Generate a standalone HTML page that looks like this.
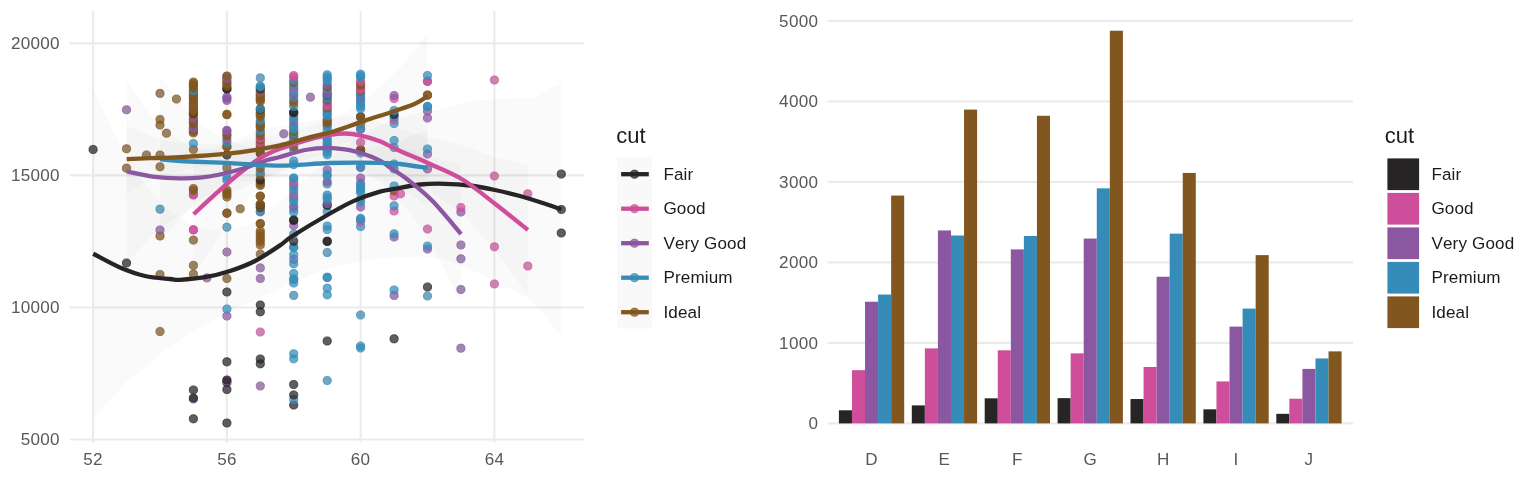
<!DOCTYPE html>
<html lang="en">
<head>
<meta charset="utf-8">
<title>cut</title>
<style>
html,body{margin:0;padding:0;background:#fff;}
body{width:1536px;height:480px;overflow:hidden;font-family:"Liberation Sans",sans-serif;}
svg{display:block;}
</style>
</head>
<body>
<svg width="1536" height="480" viewBox="0 0 1536 480">
<rect width="1536" height="480" fill="#ffffff"/>
<line x1="93.10" x2="93.10" y1="11" y2="442.75" stroke="#ebebeb" stroke-width="2.07"/>
<line x1="226.86" x2="226.86" y1="11" y2="442.75" stroke="#ebebeb" stroke-width="2.07"/>
<line x1="360.62" x2="360.62" y1="11" y2="442.75" stroke="#ebebeb" stroke-width="2.07"/>
<line x1="494.38" x2="494.38" y1="11" y2="442.75" stroke="#ebebeb" stroke-width="2.07"/>
<line x1="69.75" x2="584.5" y1="439.50" y2="439.50" stroke="#ebebeb" stroke-width="2.07"/>
<line x1="69.75" x2="584.5" y1="307.45" y2="307.45" stroke="#ebebeb" stroke-width="2.07"/>
<line x1="69.75" x2="584.5" y1="175.40" y2="175.40" stroke="#ebebeb" stroke-width="2.07"/>
<line x1="69.75" x2="584.5" y1="43.35" y2="43.35" stroke="#ebebeb" stroke-width="2.07"/>
<polygon points="93.1,88.8 101.5,106.2 109.8,123.8 118.2,141.3 126.5,157.7 134.9,169.5 143.3,181.4 151.6,191.7 160.0,201.7 168.3,209.6 176.7,215.8 185.1,221.0 193.4,225.6 201.8,228.2 210.1,229.3 218.5,230.0 226.9,230.7 235.2,229.0 243.6,225.8 251.9,222.6 260.3,218.2 268.7,211.2 277.0,204.1 285.4,196.4 293.7,188.5 302.1,181.7 310.5,174.9 318.8,168.1 327.2,161.0 335.5,154.3 343.9,147.9 352.3,141.4 360.6,136.1 369.0,131.2 377.3,126.3 385.7,122.9 394.1,120.2 402.4,117.6 410.8,115.1 419.1,112.6 427.5,111.2 435.9,109.9 444.2,108.0 452.6,105.8 460.9,103.6 469.3,101.5 477.7,100.5 486.0,99.8 494.4,99.0 502.7,98.6 511.1,98.4 519.5,98.1 527.8,98.3 536.2,95.8 544.5,91.3 552.9,87.1 561.3,83.0 561.3,336.0 552.9,325.9 544.5,315.9 536.2,306.3 527.8,298.5 519.5,293.7 511.1,289.4 502.7,285.1 494.4,280.8 486.0,277.0 477.7,273.2 469.3,269.4 460.9,266.1 452.6,262.8 444.2,259.6 435.9,258.1 427.5,257.3 419.1,256.7 410.8,257.1 402.4,257.4 394.1,257.7 385.7,258.2 377.3,258.8 369.0,259.8 360.6,260.8 352.3,262.2 343.9,264.5 335.5,266.8 327.2,269.4 318.8,272.3 310.5,275.6 302.1,278.8 293.7,282.0 285.4,286.3 277.0,290.4 268.7,293.8 260.3,297.2 251.9,301.9 243.6,305.3 235.2,308.8 226.9,312.9 218.5,317.7 210.1,322.6 201.8,327.0 193.4,331.2 185.1,337.5 176.7,343.3 168.3,348.0 160.0,353.9 151.6,361.9 143.3,369.5 134.9,375.6 126.5,381.7 118.2,391.8 109.8,400.8 101.5,409.7 93.1,418.8" fill="#000" fill-opacity="0.02"/>
<polygon points="193.4,152.2 201.8,150.2 210.1,148.0 218.5,145.9 226.9,144.1 235.2,140.1 243.6,136.8 251.9,133.6 260.3,131.3 268.7,128.3 277.0,126.5 285.4,125.3 293.7,124.3 302.1,122.3 310.5,120.9 318.8,119.8 327.2,118.6 335.5,117.2 343.9,116.1 352.3,116.7 360.6,117.6 369.0,119.2 377.3,121.0 385.7,123.8 394.1,127.1 402.4,129.8 410.8,132.2 419.1,134.5 427.5,136.9 435.9,138.8 444.2,140.8 452.6,142.8 460.9,144.8 469.3,147.6 477.7,150.8 486.0,154.0 494.4,157.3 502.7,159.2 511.1,161.1 519.5,163.0 527.8,164.9 527.8,294.9 519.5,283.5 511.1,272.1 502.7,260.7 494.4,249.3 486.0,240.0 477.7,230.8 469.3,221.6 460.9,212.8 452.6,206.8 444.2,200.8 435.9,194.8 427.5,188.9 419.1,184.0 410.8,179.2 402.4,174.3 394.1,169.1 385.7,164.3 377.3,160.0 369.0,156.7 360.6,153.6 352.3,152.2 343.9,151.1 335.5,151.7 327.2,152.6 318.8,155.3 310.5,157.9 302.1,160.8 293.7,164.3 285.4,168.8 277.0,173.5 268.7,178.8 260.3,185.3 251.9,194.1 243.6,203.8 235.2,213.6 226.9,224.1 218.5,236.9 210.1,250.0 201.8,263.2 193.4,276.2" fill="#000" fill-opacity="0.02"/>
<polygon points="126.5,80.0 134.9,91.9 143.3,103.9 151.6,115.9 160.0,127.2 168.3,132.6 176.7,138.1 185.1,143.1 193.4,147.8 201.8,149.3 210.1,150.1 218.5,150.8 226.9,150.7 235.2,149.8 243.6,148.9 251.9,147.2 260.3,145.5 268.7,143.2 277.0,141.7 285.4,140.0 293.7,138.2 302.1,135.8 310.5,134.5 318.8,133.6 327.2,132.8 335.5,133.0 343.9,133.3 352.3,134.5 360.6,135.9 369.0,137.4 377.3,139.0 385.7,142.3 394.1,146.3 402.4,148.0 410.8,150.3 419.1,153.5 427.5,156.7 435.9,157.4 444.2,159.5 452.6,161.7 460.9,163.8 460.9,303.8 452.6,286.7 444.2,269.5 435.9,252.4 427.5,236.7 419.1,225.5 410.8,214.3 402.4,204.0 394.1,194.3 385.7,186.8 377.3,180.0 369.0,174.9 360.6,169.9 352.3,167.5 343.9,165.3 335.5,164.0 327.2,162.8 318.8,163.6 310.5,164.5 302.1,165.8 293.7,168.2 285.4,171.0 277.0,173.7 268.7,176.2 260.3,179.5 251.9,183.7 243.6,187.9 235.2,191.3 226.9,194.7 218.5,198.8 210.1,202.1 201.8,205.3 193.4,207.8 185.1,213.1 176.7,218.1 168.3,222.6 160.0,227.2 151.6,236.6 143.3,245.4 134.9,254.2 126.5,263.0" fill="#000" fill-opacity="0.02"/>
<polygon points="160.0,76.2 168.3,87.2 176.7,98.2 185.1,109.0 193.4,119.6 201.8,124.9 210.1,130.3 218.5,135.6 226.9,141.0 235.2,143.1 243.6,145.3 251.9,147.4 260.3,149.6 268.7,151.0 277.0,152.5 285.4,153.3 293.7,153.9 302.1,153.7 310.5,153.5 318.8,153.3 327.2,153.1 335.5,152.5 343.9,152.0 352.3,151.5 360.6,150.9 369.0,148.9 377.3,146.9 385.7,145.2 394.1,143.7 402.4,139.9 410.8,136.6 419.1,133.3 427.5,130.0 427.5,206.0 419.1,200.3 410.8,194.6 402.4,188.9 394.1,183.7 385.7,181.2 377.3,178.9 369.0,176.9 360.6,174.9 352.3,174.5 343.9,174.0 335.5,173.5 327.2,173.1 318.8,173.8 310.5,174.5 302.1,175.2 293.7,175.9 285.4,177.3 277.0,178.5 268.7,179.0 260.3,179.6 251.9,180.9 243.6,182.3 235.2,183.6 226.9,185.0 218.5,189.6 210.1,194.3 201.8,198.9 193.4,203.6 185.1,213.5 176.7,223.2 168.3,232.7 160.0,242.2" fill="#000" fill-opacity="0.02"/>
<polygon points="126.5,125.2 134.9,128.8 143.3,132.5 151.6,136.1 160.0,139.9 168.3,141.1 176.7,142.3 185.1,143.3 193.4,144.2 201.8,144.0 210.1,143.9 218.5,143.8 226.9,143.6 235.2,142.4 243.6,141.0 251.9,139.6 260.3,138.1 268.7,136.5 277.0,135.0 285.4,132.9 293.7,130.6 302.1,127.8 310.5,125.1 318.8,122.6 327.2,120.0 335.5,116.4 343.9,112.5 352.3,108.3 360.6,104.1 369.0,96.6 377.3,89.2 385.7,81.5 394.1,73.3 402.4,64.9 410.8,55.3 419.1,44.0 427.5,31.8 427.5,160.8 419.1,158.5 410.8,155.2 402.4,151.5 394.1,149.0 385.7,146.3 377.3,144.0 369.0,142.0 360.6,140.1 352.3,141.8 343.9,143.5 335.5,144.9 327.2,146.0 318.8,147.6 310.5,149.1 302.1,150.8 293.7,152.6 285.4,154.9 277.0,157.0 268.7,158.5 260.3,160.1 251.9,161.1 243.6,162.0 235.2,162.9 226.9,163.6 218.5,164.8 210.1,165.9 201.8,167.0 193.4,168.2 185.1,170.3 176.7,172.3 168.3,174.1 160.0,175.9 151.6,180.1 143.3,184.5 134.9,188.8 126.5,193.2" fill="#000" fill-opacity="0.02"/>
<g stroke-width="0.95">
<circle cx="93.1" cy="149.5" r="4.1" fill="#272425" fill-opacity="0.74" stroke="#272425" stroke-opacity="0.74"/>
<circle cx="126.5" cy="263.0" r="4.1" fill="#272425" fill-opacity="0.74" stroke="#272425" stroke-opacity="0.74"/>
<circle cx="126.5" cy="168.2" r="4.1" fill="#78592f" fill-opacity="0.74" stroke="#81571F" stroke-opacity="0.74"/>
<circle cx="126.5" cy="148.8" r="4.1" fill="#78592f" fill-opacity="0.74" stroke="#81571F" stroke-opacity="0.74"/>
<circle cx="126.5" cy="109.8" r="4.1" fill="#845d94" fill-opacity="0.74" stroke="#8B57A1" stroke-opacity="0.74"/>
<circle cx="160.0" cy="331.5" r="4.1" fill="#78592f" fill-opacity="0.74" stroke="#81571F" stroke-opacity="0.74"/>
<circle cx="160.0" cy="274.5" r="4.1" fill="#78592f" fill-opacity="0.74" stroke="#81571F" stroke-opacity="0.74"/>
<circle cx="160.0" cy="236.0" r="4.1" fill="#81571F" fill-opacity="0.74" stroke="#81571F" stroke-opacity="0.74"/>
<circle cx="160.0" cy="230.0" r="4.1" fill="#8B57A1" fill-opacity="0.74" stroke="#8B57A1" stroke-opacity="0.74"/>
<circle cx="160.0" cy="209.2" r="4.1" fill="#4687a9" fill-opacity="0.74" stroke="#368CB9" stroke-opacity="0.74"/>
<circle cx="160.0" cy="166.8" r="4.1" fill="#78592f" fill-opacity="0.74" stroke="#81571F" stroke-opacity="0.74"/>
<circle cx="160.0" cy="155.0" r="4.1" fill="#78592f" fill-opacity="0.74" stroke="#81571F" stroke-opacity="0.74"/>
<circle cx="160.0" cy="125.0" r="4.1" fill="#81571F" fill-opacity="0.74" stroke="#81571F" stroke-opacity="0.74"/>
<circle cx="160.0" cy="119.5" r="4.1" fill="#81571F" fill-opacity="0.74" stroke="#81571F" stroke-opacity="0.74"/>
<circle cx="160.0" cy="93.4" r="4.1" fill="#78592f" fill-opacity="0.74" stroke="#81571F" stroke-opacity="0.74"/>
<circle cx="193.4" cy="418.8" r="4.1" fill="#272425" fill-opacity="0.74" stroke="#272425" stroke-opacity="0.74"/>
<circle cx="193.4" cy="399.0" r="4.1" fill="#8B57A1" fill-opacity="0.74" stroke="#8B57A1" stroke-opacity="0.74"/>
<circle cx="193.4" cy="398.0" r="4.1" fill="#272425" fill-opacity="0.74" stroke="#272425" stroke-opacity="0.74"/>
<circle cx="193.4" cy="390.0" r="4.1" fill="#272425" fill-opacity="0.74" stroke="#272425" stroke-opacity="0.74"/>
<circle cx="193.4" cy="274.1" r="4.1" fill="#78592f" fill-opacity="0.74" stroke="#81571F" stroke-opacity="0.74"/>
<circle cx="193.4" cy="265.4" r="4.1" fill="#78592f" fill-opacity="0.74" stroke="#81571F" stroke-opacity="0.74"/>
<circle cx="193.4" cy="240.1" r="4.1" fill="#78592f" fill-opacity="0.74" stroke="#81571F" stroke-opacity="0.74"/>
<circle cx="193.4" cy="229.9" r="4.1" fill="#CE4E9B" fill-opacity="0.74" stroke="#CE4E9B" stroke-opacity="0.74"/>
<circle cx="193.4" cy="229.8" r="4.1" fill="#CE4E9B" fill-opacity="0.74" stroke="#CE4E9B" stroke-opacity="0.74"/>
<circle cx="193.4" cy="195.0" r="4.1" fill="#8B57A1" fill-opacity="0.74" stroke="#8B57A1" stroke-opacity="0.74"/>
<circle cx="193.4" cy="194.6" r="4.1" fill="#CE4E9B" fill-opacity="0.74" stroke="#CE4E9B" stroke-opacity="0.74"/>
<circle cx="193.4" cy="190.5" r="4.1" fill="#81571F" fill-opacity="0.74" stroke="#81571F" stroke-opacity="0.74"/>
<circle cx="193.4" cy="188.5" r="4.1" fill="#81571F" fill-opacity="0.74" stroke="#81571F" stroke-opacity="0.74"/>
<circle cx="193.4" cy="149.4" r="4.1" fill="#81571F" fill-opacity="0.74" stroke="#81571F" stroke-opacity="0.74"/>
<circle cx="193.4" cy="143.5" r="4.1" fill="#368CB9" fill-opacity="0.74" stroke="#368CB9" stroke-opacity="0.74"/>
<circle cx="193.4" cy="133.0" r="4.1" fill="#81571F" fill-opacity="0.74" stroke="#81571F" stroke-opacity="0.74"/>
<circle cx="193.4" cy="131.5" r="4.1" fill="#81571F" fill-opacity="0.74" stroke="#81571F" stroke-opacity="0.74"/>
<circle cx="193.4" cy="130.0" r="4.1" fill="#81571F" fill-opacity="0.74" stroke="#81571F" stroke-opacity="0.74"/>
<circle cx="193.4" cy="128.5" r="4.1" fill="#81571F" fill-opacity="0.74" stroke="#81571F" stroke-opacity="0.74"/>
<circle cx="193.4" cy="128.0" r="4.1" fill="#8B57A1" fill-opacity="0.74" stroke="#8B57A1" stroke-opacity="0.74"/>
<circle cx="193.4" cy="127.6" r="4.1" fill="#8B57A1" fill-opacity="0.74" stroke="#8B57A1" stroke-opacity="0.74"/>
<circle cx="193.4" cy="124.0" r="4.1" fill="#81571F" fill-opacity="0.74" stroke="#81571F" stroke-opacity="0.74"/>
<circle cx="193.4" cy="122.5" r="4.1" fill="#81571F" fill-opacity="0.74" stroke="#81571F" stroke-opacity="0.74"/>
<circle cx="193.4" cy="121.0" r="4.1" fill="#81571F" fill-opacity="0.74" stroke="#81571F" stroke-opacity="0.74"/>
<circle cx="193.4" cy="119.5" r="4.1" fill="#81571F" fill-opacity="0.74" stroke="#81571F" stroke-opacity="0.74"/>
<circle cx="193.4" cy="118.6" r="4.1" fill="#8B57A1" fill-opacity="0.74" stroke="#8B57A1" stroke-opacity="0.74"/>
<circle cx="193.4" cy="115.0" r="4.1" fill="#81571F" fill-opacity="0.74" stroke="#81571F" stroke-opacity="0.74"/>
<circle cx="193.4" cy="113.5" r="4.1" fill="#81571F" fill-opacity="0.74" stroke="#81571F" stroke-opacity="0.74"/>
<circle cx="193.4" cy="113.0" r="4.1" fill="#272425" fill-opacity="0.74" stroke="#272425" stroke-opacity="0.74"/>
<circle cx="193.4" cy="112.0" r="4.1" fill="#81571F" fill-opacity="0.74" stroke="#81571F" stroke-opacity="0.74"/>
<circle cx="193.4" cy="110.5" r="4.1" fill="#81571F" fill-opacity="0.74" stroke="#81571F" stroke-opacity="0.74"/>
<circle cx="193.4" cy="109.0" r="4.1" fill="#81571F" fill-opacity="0.74" stroke="#81571F" stroke-opacity="0.74"/>
<circle cx="193.4" cy="107.5" r="4.1" fill="#81571F" fill-opacity="0.74" stroke="#81571F" stroke-opacity="0.74"/>
<circle cx="193.4" cy="106.0" r="4.1" fill="#81571F" fill-opacity="0.74" stroke="#81571F" stroke-opacity="0.74"/>
<circle cx="193.4" cy="104.5" r="4.1" fill="#81571F" fill-opacity="0.74" stroke="#81571F" stroke-opacity="0.74"/>
<circle cx="193.4" cy="103.2" r="4.1" fill="#8B57A1" fill-opacity="0.74" stroke="#8B57A1" stroke-opacity="0.74"/>
<circle cx="193.4" cy="103.0" r="4.1" fill="#81571F" fill-opacity="0.74" stroke="#81571F" stroke-opacity="0.74"/>
<circle cx="193.4" cy="100.0" r="4.1" fill="#81571F" fill-opacity="0.74" stroke="#81571F" stroke-opacity="0.74"/>
<circle cx="193.4" cy="98.5" r="4.1" fill="#81571F" fill-opacity="0.74" stroke="#81571F" stroke-opacity="0.74"/>
<circle cx="193.4" cy="97.0" r="4.1" fill="#81571F" fill-opacity="0.74" stroke="#81571F" stroke-opacity="0.74"/>
<circle cx="193.4" cy="95.5" r="4.1" fill="#81571F" fill-opacity="0.74" stroke="#81571F" stroke-opacity="0.74"/>
<circle cx="193.4" cy="94.0" r="4.1" fill="#81571F" fill-opacity="0.74" stroke="#81571F" stroke-opacity="0.74"/>
<circle cx="193.4" cy="92.5" r="4.1" fill="#81571F" fill-opacity="0.74" stroke="#81571F" stroke-opacity="0.74"/>
<circle cx="193.4" cy="91.0" r="4.1" fill="#81571F" fill-opacity="0.74" stroke="#81571F" stroke-opacity="0.74"/>
<circle cx="193.4" cy="90.7" r="4.1" fill="#368CB9" fill-opacity="0.74" stroke="#368CB9" stroke-opacity="0.74"/>
<circle cx="193.4" cy="88.0" r="4.1" fill="#81571F" fill-opacity="0.74" stroke="#81571F" stroke-opacity="0.74"/>
<circle cx="193.4" cy="86.5" r="4.1" fill="#81571F" fill-opacity="0.74" stroke="#81571F" stroke-opacity="0.74"/>
<circle cx="193.4" cy="85.0" r="4.1" fill="#81571F" fill-opacity="0.74" stroke="#81571F" stroke-opacity="0.74"/>
<circle cx="193.4" cy="83.5" r="4.1" fill="#81571F" fill-opacity="0.74" stroke="#81571F" stroke-opacity="0.74"/>
<circle cx="193.4" cy="82.0" r="4.1" fill="#81571F" fill-opacity="0.74" stroke="#81571F" stroke-opacity="0.74"/>
<circle cx="226.9" cy="423.0" r="4.1" fill="#272425" fill-opacity="0.74" stroke="#272425" stroke-opacity="0.74"/>
<circle cx="226.9" cy="389.5" r="4.1" fill="#272425" fill-opacity="0.74" stroke="#272425" stroke-opacity="0.74"/>
<circle cx="226.9" cy="382.5" r="4.1" fill="#272425" fill-opacity="0.74" stroke="#272425" stroke-opacity="0.74"/>
<circle cx="226.9" cy="381.0" r="4.1" fill="#8B57A1" fill-opacity="0.74" stroke="#8B57A1" stroke-opacity="0.74"/>
<circle cx="226.9" cy="380.0" r="4.1" fill="#272425" fill-opacity="0.74" stroke="#272425" stroke-opacity="0.74"/>
<circle cx="226.9" cy="361.8" r="4.1" fill="#272425" fill-opacity="0.74" stroke="#272425" stroke-opacity="0.74"/>
<circle cx="226.9" cy="316.0" r="4.1" fill="#8B57A1" fill-opacity="0.74" stroke="#8B57A1" stroke-opacity="0.74"/>
<circle cx="226.9" cy="309.0" r="4.1" fill="#368CB9" fill-opacity="0.74" stroke="#368CB9" stroke-opacity="0.74"/>
<circle cx="226.9" cy="292.0" r="4.1" fill="#272425" fill-opacity="0.74" stroke="#272425" stroke-opacity="0.74"/>
<circle cx="226.9" cy="278.5" r="4.1" fill="#78592f" fill-opacity="0.74" stroke="#81571F" stroke-opacity="0.74"/>
<circle cx="226.9" cy="252.0" r="4.1" fill="#845d94" fill-opacity="0.74" stroke="#8B57A1" stroke-opacity="0.74"/>
<circle cx="226.9" cy="227.2" r="4.1" fill="#4687a9" fill-opacity="0.74" stroke="#368CB9" stroke-opacity="0.74"/>
<circle cx="226.9" cy="213.3" r="4.1" fill="#81571F" fill-opacity="0.74" stroke="#81571F" stroke-opacity="0.74"/>
<circle cx="226.9" cy="213.0" r="4.1" fill="#81571F" fill-opacity="0.74" stroke="#81571F" stroke-opacity="0.74"/>
<circle cx="226.9" cy="197.0" r="4.1" fill="#81571F" fill-opacity="0.74" stroke="#81571F" stroke-opacity="0.74"/>
<circle cx="226.9" cy="194.5" r="4.1" fill="#81571F" fill-opacity="0.74" stroke="#81571F" stroke-opacity="0.74"/>
<circle cx="226.9" cy="192.5" r="4.1" fill="#81571F" fill-opacity="0.74" stroke="#81571F" stroke-opacity="0.74"/>
<circle cx="226.9" cy="190.0" r="4.1" fill="#81571F" fill-opacity="0.74" stroke="#81571F" stroke-opacity="0.74"/>
<circle cx="226.9" cy="180.0" r="4.1" fill="#368CB9" fill-opacity="0.74" stroke="#368CB9" stroke-opacity="0.74"/>
<circle cx="226.9" cy="177.0" r="4.1" fill="#368CB9" fill-opacity="0.74" stroke="#368CB9" stroke-opacity="0.74"/>
<circle cx="226.9" cy="167.9" r="4.1" fill="#78592f" fill-opacity="0.74" stroke="#81571F" stroke-opacity="0.74"/>
<circle cx="226.9" cy="155.0" r="4.1" fill="#272425" fill-opacity="0.74" stroke="#272425" stroke-opacity="0.74"/>
<circle cx="226.9" cy="146.8" r="4.1" fill="#81571F" fill-opacity="0.74" stroke="#81571F" stroke-opacity="0.74"/>
<circle cx="226.9" cy="146.6" r="4.1" fill="#81571F" fill-opacity="0.74" stroke="#81571F" stroke-opacity="0.74"/>
<circle cx="226.9" cy="142.6" r="4.1" fill="#368CB9" fill-opacity="0.74" stroke="#368CB9" stroke-opacity="0.74"/>
<circle cx="226.9" cy="139.4" r="4.1" fill="#8B57A1" fill-opacity="0.74" stroke="#8B57A1" stroke-opacity="0.74"/>
<circle cx="226.9" cy="136.0" r="4.1" fill="#81571F" fill-opacity="0.74" stroke="#81571F" stroke-opacity="0.74"/>
<circle cx="226.9" cy="134.0" r="4.1" fill="#81571F" fill-opacity="0.74" stroke="#81571F" stroke-opacity="0.74"/>
<circle cx="226.9" cy="130.8" r="4.1" fill="#8B57A1" fill-opacity="0.74" stroke="#8B57A1" stroke-opacity="0.74"/>
<circle cx="226.9" cy="130.4" r="4.1" fill="#8B57A1" fill-opacity="0.74" stroke="#8B57A1" stroke-opacity="0.74"/>
<circle cx="226.9" cy="114.7" r="4.1" fill="#81571F" fill-opacity="0.74" stroke="#81571F" stroke-opacity="0.74"/>
<circle cx="226.9" cy="114.3" r="4.1" fill="#81571F" fill-opacity="0.74" stroke="#81571F" stroke-opacity="0.74"/>
<circle cx="226.9" cy="100.4" r="4.1" fill="#8B57A1" fill-opacity="0.74" stroke="#8B57A1" stroke-opacity="0.74"/>
<circle cx="226.9" cy="98.5" r="4.1" fill="#8B57A1" fill-opacity="0.74" stroke="#8B57A1" stroke-opacity="0.74"/>
<circle cx="226.9" cy="97.0" r="4.1" fill="#8B57A1" fill-opacity="0.74" stroke="#8B57A1" stroke-opacity="0.74"/>
<circle cx="226.9" cy="89.0" r="4.1" fill="#272425" fill-opacity="0.74" stroke="#272425" stroke-opacity="0.74"/>
<circle cx="226.9" cy="88.6" r="4.1" fill="#272425" fill-opacity="0.74" stroke="#272425" stroke-opacity="0.74"/>
<circle cx="226.9" cy="86.0" r="4.1" fill="#81571F" fill-opacity="0.74" stroke="#81571F" stroke-opacity="0.74"/>
<circle cx="226.9" cy="84.0" r="4.1" fill="#81571F" fill-opacity="0.74" stroke="#81571F" stroke-opacity="0.74"/>
<circle cx="226.9" cy="82.0" r="4.1" fill="#81571F" fill-opacity="0.74" stroke="#81571F" stroke-opacity="0.74"/>
<circle cx="226.9" cy="80.0" r="4.1" fill="#81571F" fill-opacity="0.74" stroke="#81571F" stroke-opacity="0.74"/>
<circle cx="226.9" cy="78.2" r="4.1" fill="#8B57A1" fill-opacity="0.74" stroke="#8B57A1" stroke-opacity="0.74"/>
<circle cx="226.9" cy="76.5" r="4.1" fill="#8B57A1" fill-opacity="0.74" stroke="#8B57A1" stroke-opacity="0.74"/>
<circle cx="226.9" cy="76.0" r="4.1" fill="#81571F" fill-opacity="0.74" stroke="#81571F" stroke-opacity="0.74"/>
<circle cx="260.3" cy="386.0" r="4.1" fill="#845d94" fill-opacity="0.74" stroke="#8B57A1" stroke-opacity="0.74"/>
<circle cx="260.3" cy="363.8" r="4.1" fill="#272425" fill-opacity="0.74" stroke="#272425" stroke-opacity="0.74"/>
<circle cx="260.3" cy="359.0" r="4.1" fill="#272425" fill-opacity="0.74" stroke="#272425" stroke-opacity="0.74"/>
<circle cx="260.3" cy="332.0" r="4.1" fill="#ba5a94" fill-opacity="0.74" stroke="#CE4E9B" stroke-opacity="0.74"/>
<circle cx="260.3" cy="311.8" r="4.1" fill="#272425" fill-opacity="0.74" stroke="#272425" stroke-opacity="0.74"/>
<circle cx="260.3" cy="305.0" r="4.1" fill="#272425" fill-opacity="0.74" stroke="#272425" stroke-opacity="0.74"/>
<circle cx="260.3" cy="278.5" r="4.1" fill="#845d94" fill-opacity="0.74" stroke="#8B57A1" stroke-opacity="0.74"/>
<circle cx="260.3" cy="267.9" r="4.1" fill="#845d94" fill-opacity="0.74" stroke="#8B57A1" stroke-opacity="0.74"/>
<circle cx="260.3" cy="254.1" r="4.1" fill="#78592f" fill-opacity="0.74" stroke="#81571F" stroke-opacity="0.74"/>
<circle cx="260.3" cy="245.0" r="4.1" fill="#81571F" fill-opacity="0.74" stroke="#81571F" stroke-opacity="0.74"/>
<circle cx="260.3" cy="241.8" r="4.1" fill="#81571F" fill-opacity="0.74" stroke="#81571F" stroke-opacity="0.74"/>
<circle cx="260.3" cy="239.1" r="4.1" fill="#81571F" fill-opacity="0.74" stroke="#81571F" stroke-opacity="0.74"/>
<circle cx="260.3" cy="236.4" r="4.1" fill="#81571F" fill-opacity="0.74" stroke="#81571F" stroke-opacity="0.74"/>
<circle cx="260.3" cy="233.7" r="4.1" fill="#81571F" fill-opacity="0.74" stroke="#81571F" stroke-opacity="0.74"/>
<circle cx="260.3" cy="231.0" r="4.1" fill="#81571F" fill-opacity="0.74" stroke="#81571F" stroke-opacity="0.74"/>
<circle cx="260.3" cy="223.8" r="4.1" fill="#81571F" fill-opacity="0.74" stroke="#81571F" stroke-opacity="0.74"/>
<circle cx="260.3" cy="223.5" r="4.1" fill="#81571F" fill-opacity="0.74" stroke="#81571F" stroke-opacity="0.74"/>
<circle cx="260.3" cy="211.9" r="4.1" fill="#8B57A1" fill-opacity="0.74" stroke="#8B57A1" stroke-opacity="0.74"/>
<circle cx="260.3" cy="211.3" r="4.1" fill="#368CB9" fill-opacity="0.74" stroke="#368CB9" stroke-opacity="0.74"/>
<circle cx="260.3" cy="207.4" r="4.1" fill="#272425" fill-opacity="0.74" stroke="#272425" stroke-opacity="0.74"/>
<circle cx="260.3" cy="207.0" r="4.1" fill="#81571F" fill-opacity="0.74" stroke="#81571F" stroke-opacity="0.74"/>
<circle cx="260.3" cy="204.5" r="4.1" fill="#272425" fill-opacity="0.74" stroke="#272425" stroke-opacity="0.74"/>
<circle cx="260.3" cy="204.2" r="4.1" fill="#81571F" fill-opacity="0.74" stroke="#81571F" stroke-opacity="0.74"/>
<circle cx="260.3" cy="196.3" r="4.1" fill="#81571F" fill-opacity="0.74" stroke="#81571F" stroke-opacity="0.74"/>
<circle cx="260.3" cy="196.0" r="4.1" fill="#81571F" fill-opacity="0.74" stroke="#81571F" stroke-opacity="0.74"/>
<circle cx="260.3" cy="185.5" r="4.1" fill="#81571F" fill-opacity="0.74" stroke="#81571F" stroke-opacity="0.74"/>
<circle cx="260.3" cy="184.0" r="4.1" fill="#81571F" fill-opacity="0.74" stroke="#81571F" stroke-opacity="0.74"/>
<circle cx="260.3" cy="182.0" r="4.1" fill="#81571F" fill-opacity="0.74" stroke="#81571F" stroke-opacity="0.74"/>
<circle cx="260.3" cy="180.0" r="4.1" fill="#272425" fill-opacity="0.74" stroke="#272425" stroke-opacity="0.74"/>
<circle cx="260.3" cy="175.0" r="4.1" fill="#81571F" fill-opacity="0.74" stroke="#81571F" stroke-opacity="0.74"/>
<circle cx="260.3" cy="172.0" r="4.1" fill="#368CB9" fill-opacity="0.74" stroke="#368CB9" stroke-opacity="0.74"/>
<circle cx="260.3" cy="168.0" r="4.1" fill="#81571F" fill-opacity="0.74" stroke="#81571F" stroke-opacity="0.74"/>
<circle cx="260.3" cy="153.3" r="4.1" fill="#272425" fill-opacity="0.74" stroke="#272425" stroke-opacity="0.74"/>
<circle cx="260.3" cy="153.0" r="4.1" fill="#81571F" fill-opacity="0.74" stroke="#81571F" stroke-opacity="0.74"/>
<circle cx="260.3" cy="147.0" r="4.1" fill="#81571F" fill-opacity="0.74" stroke="#81571F" stroke-opacity="0.74"/>
<circle cx="260.3" cy="144.5" r="4.1" fill="#81571F" fill-opacity="0.74" stroke="#81571F" stroke-opacity="0.74"/>
<circle cx="260.3" cy="142.5" r="4.1" fill="#CE4E9B" fill-opacity="0.74" stroke="#CE4E9B" stroke-opacity="0.74"/>
<circle cx="260.3" cy="140.0" r="4.1" fill="#81571F" fill-opacity="0.74" stroke="#81571F" stroke-opacity="0.74"/>
<circle cx="260.3" cy="138.0" r="4.1" fill="#CE4E9B" fill-opacity="0.74" stroke="#CE4E9B" stroke-opacity="0.74"/>
<circle cx="260.3" cy="135.5" r="4.1" fill="#81571F" fill-opacity="0.74" stroke="#81571F" stroke-opacity="0.74"/>
<circle cx="260.3" cy="133.0" r="4.1" fill="#81571F" fill-opacity="0.74" stroke="#81571F" stroke-opacity="0.74"/>
<circle cx="260.3" cy="131.0" r="4.1" fill="#368CB9" fill-opacity="0.74" stroke="#368CB9" stroke-opacity="0.74"/>
<circle cx="260.3" cy="127.5" r="4.1" fill="#81571F" fill-opacity="0.74" stroke="#81571F" stroke-opacity="0.74"/>
<circle cx="260.3" cy="126.0" r="4.1" fill="#81571F" fill-opacity="0.74" stroke="#81571F" stroke-opacity="0.74"/>
<circle cx="260.3" cy="124.5" r="4.1" fill="#81571F" fill-opacity="0.74" stroke="#81571F" stroke-opacity="0.74"/>
<circle cx="260.3" cy="123.0" r="4.1" fill="#81571F" fill-opacity="0.74" stroke="#81571F" stroke-opacity="0.74"/>
<circle cx="260.3" cy="120.6" r="4.1" fill="#368CB9" fill-opacity="0.74" stroke="#368CB9" stroke-opacity="0.74"/>
<circle cx="260.3" cy="116.5" r="4.1" fill="#81571F" fill-opacity="0.74" stroke="#81571F" stroke-opacity="0.74"/>
<circle cx="260.3" cy="115.0" r="4.1" fill="#81571F" fill-opacity="0.74" stroke="#81571F" stroke-opacity="0.74"/>
<circle cx="260.3" cy="113.5" r="4.1" fill="#81571F" fill-opacity="0.74" stroke="#81571F" stroke-opacity="0.74"/>
<circle cx="260.3" cy="112.0" r="4.1" fill="#81571F" fill-opacity="0.74" stroke="#81571F" stroke-opacity="0.74"/>
<circle cx="260.3" cy="109.2" r="4.1" fill="#272425" fill-opacity="0.74" stroke="#272425" stroke-opacity="0.74"/>
<circle cx="260.3" cy="108.6" r="4.1" fill="#368CB9" fill-opacity="0.74" stroke="#368CB9" stroke-opacity="0.74"/>
<circle cx="260.3" cy="101.5" r="4.1" fill="#81571F" fill-opacity="0.74" stroke="#81571F" stroke-opacity="0.74"/>
<circle cx="260.3" cy="100.0" r="4.1" fill="#81571F" fill-opacity="0.74" stroke="#81571F" stroke-opacity="0.74"/>
<circle cx="260.3" cy="98.5" r="4.1" fill="#81571F" fill-opacity="0.74" stroke="#81571F" stroke-opacity="0.74"/>
<circle cx="260.3" cy="97.0" r="4.1" fill="#81571F" fill-opacity="0.74" stroke="#81571F" stroke-opacity="0.74"/>
<circle cx="260.3" cy="95.5" r="4.1" fill="#81571F" fill-opacity="0.74" stroke="#81571F" stroke-opacity="0.74"/>
<circle cx="260.3" cy="94.0" r="4.1" fill="#81571F" fill-opacity="0.74" stroke="#81571F" stroke-opacity="0.74"/>
<circle cx="260.3" cy="92.0" r="4.1" fill="#8B57A1" fill-opacity="0.74" stroke="#8B57A1" stroke-opacity="0.74"/>
<circle cx="260.3" cy="90.4" r="4.1" fill="#81571F" fill-opacity="0.74" stroke="#81571F" stroke-opacity="0.74"/>
<circle cx="260.3" cy="88.6" r="4.1" fill="#272425" fill-opacity="0.74" stroke="#272425" stroke-opacity="0.74"/>
<circle cx="260.3" cy="87.0" r="4.1" fill="#368CB9" fill-opacity="0.74" stroke="#368CB9" stroke-opacity="0.74"/>
<circle cx="260.3" cy="86.0" r="4.1" fill="#368CB9" fill-opacity="0.74" stroke="#368CB9" stroke-opacity="0.74"/>
<circle cx="260.3" cy="77.9" r="4.1" fill="#4687a9" fill-opacity="0.74" stroke="#368CB9" stroke-opacity="0.74"/>
<circle cx="293.7" cy="405.0" r="4.1" fill="#272425" fill-opacity="0.74" stroke="#272425" stroke-opacity="0.74"/>
<circle cx="293.7" cy="399.5" r="4.1" fill="#368CB9" fill-opacity="0.74" stroke="#368CB9" stroke-opacity="0.74"/>
<circle cx="293.7" cy="395.0" r="4.1" fill="#272425" fill-opacity="0.74" stroke="#272425" stroke-opacity="0.74"/>
<circle cx="293.7" cy="384.5" r="4.1" fill="#272425" fill-opacity="0.74" stroke="#272425" stroke-opacity="0.74"/>
<circle cx="293.7" cy="358.8" r="4.1" fill="#368CB9" fill-opacity="0.74" stroke="#368CB9" stroke-opacity="0.74"/>
<circle cx="293.7" cy="353.8" r="4.1" fill="#368CB9" fill-opacity="0.74" stroke="#368CB9" stroke-opacity="0.74"/>
<circle cx="293.7" cy="295.4" r="4.1" fill="#4687a9" fill-opacity="0.74" stroke="#368CB9" stroke-opacity="0.74"/>
<circle cx="293.7" cy="283.0" r="4.1" fill="#368CB9" fill-opacity="0.74" stroke="#368CB9" stroke-opacity="0.74"/>
<circle cx="293.7" cy="279.4" r="4.1" fill="#368CB9" fill-opacity="0.74" stroke="#368CB9" stroke-opacity="0.74"/>
<circle cx="293.7" cy="279.0" r="4.1" fill="#368CB9" fill-opacity="0.74" stroke="#368CB9" stroke-opacity="0.74"/>
<circle cx="293.7" cy="273.5" r="4.1" fill="#368CB9" fill-opacity="0.74" stroke="#368CB9" stroke-opacity="0.74"/>
<circle cx="293.7" cy="259.4" r="4.1" fill="#8B57A1" fill-opacity="0.74" stroke="#8B57A1" stroke-opacity="0.74"/>
<circle cx="293.7" cy="263.8" r="4.1" fill="#368CB9" fill-opacity="0.74" stroke="#368CB9" stroke-opacity="0.74"/>
<circle cx="293.7" cy="254.8" r="4.1" fill="#368CB9" fill-opacity="0.74" stroke="#368CB9" stroke-opacity="0.74"/>
<circle cx="293.7" cy="247.5" r="4.1" fill="#368CB9" fill-opacity="0.74" stroke="#368CB9" stroke-opacity="0.74"/>
<circle cx="293.7" cy="247.0" r="4.1" fill="#368CB9" fill-opacity="0.74" stroke="#368CB9" stroke-opacity="0.74"/>
<circle cx="293.7" cy="241.2" r="4.1" fill="#272425" fill-opacity="0.74" stroke="#272425" stroke-opacity="0.74"/>
<circle cx="293.7" cy="234.0" r="4.1" fill="#4687a9" fill-opacity="0.74" stroke="#368CB9" stroke-opacity="0.74"/>
<circle cx="293.7" cy="225.4" r="4.1" fill="#8B57A1" fill-opacity="0.74" stroke="#8B57A1" stroke-opacity="0.74"/>
<circle cx="293.7" cy="220.3" r="4.1" fill="#272425" fill-opacity="0.74" stroke="#272425" stroke-opacity="0.74"/>
<circle cx="293.7" cy="212.2" r="4.1" fill="#368CB9" fill-opacity="0.74" stroke="#368CB9" stroke-opacity="0.74"/>
<circle cx="293.7" cy="220.0" r="4.1" fill="#272425" fill-opacity="0.74" stroke="#272425" stroke-opacity="0.74"/>
<circle cx="293.7" cy="208.5" r="4.1" fill="#368CB9" fill-opacity="0.74" stroke="#368CB9" stroke-opacity="0.74"/>
<circle cx="293.7" cy="206.0" r="4.1" fill="#8B57A1" fill-opacity="0.74" stroke="#8B57A1" stroke-opacity="0.74"/>
<circle cx="293.7" cy="201.6" r="4.1" fill="#368CB9" fill-opacity="0.74" stroke="#368CB9" stroke-opacity="0.74"/>
<circle cx="293.7" cy="199.0" r="4.1" fill="#368CB9" fill-opacity="0.74" stroke="#368CB9" stroke-opacity="0.74"/>
<circle cx="293.7" cy="196.5" r="4.1" fill="#368CB9" fill-opacity="0.74" stroke="#368CB9" stroke-opacity="0.74"/>
<circle cx="293.7" cy="194.0" r="4.1" fill="#CE4E9B" fill-opacity="0.74" stroke="#CE4E9B" stroke-opacity="0.74"/>
<circle cx="293.7" cy="190.6" r="4.1" fill="#368CB9" fill-opacity="0.74" stroke="#368CB9" stroke-opacity="0.74"/>
<circle cx="293.7" cy="187.0" r="4.1" fill="#368CB9" fill-opacity="0.74" stroke="#368CB9" stroke-opacity="0.74"/>
<circle cx="293.7" cy="184.5" r="4.1" fill="#368CB9" fill-opacity="0.74" stroke="#368CB9" stroke-opacity="0.74"/>
<circle cx="293.7" cy="182.2" r="4.1" fill="#CE4E9B" fill-opacity="0.74" stroke="#CE4E9B" stroke-opacity="0.74"/>
<circle cx="293.7" cy="178.3" r="4.1" fill="#368CB9" fill-opacity="0.74" stroke="#368CB9" stroke-opacity="0.74"/>
<circle cx="293.7" cy="178.0" r="4.1" fill="#368CB9" fill-opacity="0.74" stroke="#368CB9" stroke-opacity="0.74"/>
<circle cx="293.7" cy="164.6" r="4.1" fill="#368CB9" fill-opacity="0.74" stroke="#368CB9" stroke-opacity="0.74"/>
<circle cx="293.7" cy="161.0" r="4.1" fill="#368CB9" fill-opacity="0.74" stroke="#368CB9" stroke-opacity="0.74"/>
<circle cx="293.7" cy="150.0" r="4.1" fill="#368CB9" fill-opacity="0.74" stroke="#368CB9" stroke-opacity="0.74"/>
<circle cx="293.7" cy="146.6" r="4.1" fill="#81571F" fill-opacity="0.74" stroke="#81571F" stroke-opacity="0.74"/>
<circle cx="293.7" cy="141.0" r="4.1" fill="#368CB9" fill-opacity="0.74" stroke="#368CB9" stroke-opacity="0.74"/>
<circle cx="293.7" cy="138.6" r="4.1" fill="#368CB9" fill-opacity="0.74" stroke="#368CB9" stroke-opacity="0.74"/>
<circle cx="293.7" cy="136.6" r="4.1" fill="#368CB9" fill-opacity="0.74" stroke="#368CB9" stroke-opacity="0.74"/>
<circle cx="293.7" cy="134.8" r="4.1" fill="#81571F" fill-opacity="0.74" stroke="#81571F" stroke-opacity="0.74"/>
<circle cx="293.7" cy="133.2" r="4.1" fill="#368CB9" fill-opacity="0.74" stroke="#368CB9" stroke-opacity="0.74"/>
<circle cx="293.7" cy="131.5" r="4.1" fill="#81571F" fill-opacity="0.74" stroke="#81571F" stroke-opacity="0.74"/>
<circle cx="293.7" cy="129.0" r="4.1" fill="#368CB9" fill-opacity="0.74" stroke="#368CB9" stroke-opacity="0.74"/>
<circle cx="293.7" cy="126.6" r="4.1" fill="#368CB9" fill-opacity="0.74" stroke="#368CB9" stroke-opacity="0.74"/>
<circle cx="293.7" cy="124.5" r="4.1" fill="#368CB9" fill-opacity="0.74" stroke="#368CB9" stroke-opacity="0.74"/>
<circle cx="293.7" cy="121.0" r="4.1" fill="#8B57A1" fill-opacity="0.74" stroke="#8B57A1" stroke-opacity="0.74"/>
<circle cx="293.7" cy="118.1" r="4.1" fill="#368CB9" fill-opacity="0.74" stroke="#368CB9" stroke-opacity="0.74"/>
<circle cx="293.7" cy="115.5" r="4.1" fill="#368CB9" fill-opacity="0.74" stroke="#368CB9" stroke-opacity="0.74"/>
<circle cx="293.7" cy="112.5" r="4.1" fill="#272425" fill-opacity="0.74" stroke="#272425" stroke-opacity="0.74"/>
<circle cx="293.7" cy="112.3" r="4.1" fill="#272425" fill-opacity="0.74" stroke="#272425" stroke-opacity="0.74"/>
<circle cx="293.7" cy="106.5" r="4.1" fill="#368CB9" fill-opacity="0.74" stroke="#368CB9" stroke-opacity="0.74"/>
<circle cx="293.7" cy="103.1" r="4.1" fill="#81571F" fill-opacity="0.74" stroke="#81571F" stroke-opacity="0.74"/>
<circle cx="293.7" cy="100.5" r="4.1" fill="#81571F" fill-opacity="0.74" stroke="#81571F" stroke-opacity="0.74"/>
<circle cx="293.7" cy="97.1" r="4.1" fill="#368CB9" fill-opacity="0.74" stroke="#368CB9" stroke-opacity="0.74"/>
<circle cx="293.7" cy="94.5" r="4.1" fill="#8B57A1" fill-opacity="0.74" stroke="#8B57A1" stroke-opacity="0.74"/>
<circle cx="293.7" cy="92.1" r="4.1" fill="#368CB9" fill-opacity="0.74" stroke="#368CB9" stroke-opacity="0.74"/>
<circle cx="293.7" cy="89.5" r="4.1" fill="#368CB9" fill-opacity="0.74" stroke="#368CB9" stroke-opacity="0.74"/>
<circle cx="293.7" cy="88.1" r="4.1" fill="#CE4E9B" fill-opacity="0.74" stroke="#CE4E9B" stroke-opacity="0.74"/>
<circle cx="293.7" cy="85.5" r="4.1" fill="#368CB9" fill-opacity="0.74" stroke="#368CB9" stroke-opacity="0.74"/>
<circle cx="293.7" cy="82.5" r="4.1" fill="#81571F" fill-opacity="0.74" stroke="#81571F" stroke-opacity="0.74"/>
<circle cx="293.7" cy="80.1" r="4.1" fill="#368CB9" fill-opacity="0.74" stroke="#368CB9" stroke-opacity="0.74"/>
<circle cx="293.7" cy="77.0" r="4.1" fill="#CE4E9B" fill-opacity="0.74" stroke="#CE4E9B" stroke-opacity="0.74"/>
<circle cx="293.7" cy="75.5" r="4.1" fill="#CE4E9B" fill-opacity="0.74" stroke="#CE4E9B" stroke-opacity="0.74"/>
<circle cx="327.2" cy="380.5" r="4.1" fill="#4687a9" fill-opacity="0.74" stroke="#368CB9" stroke-opacity="0.74"/>
<circle cx="327.2" cy="341.0" r="4.1" fill="#272425" fill-opacity="0.74" stroke="#272425" stroke-opacity="0.74"/>
<circle cx="327.2" cy="294.8" r="4.1" fill="#368CB9" fill-opacity="0.74" stroke="#368CB9" stroke-opacity="0.74"/>
<circle cx="327.2" cy="288.2" r="4.1" fill="#368CB9" fill-opacity="0.74" stroke="#368CB9" stroke-opacity="0.74"/>
<circle cx="327.2" cy="277.6" r="4.1" fill="#368CB9" fill-opacity="0.74" stroke="#368CB9" stroke-opacity="0.74"/>
<circle cx="327.2" cy="277.2" r="4.1" fill="#368CB9" fill-opacity="0.74" stroke="#368CB9" stroke-opacity="0.74"/>
<circle cx="327.2" cy="252.5" r="4.1" fill="#4687a9" fill-opacity="0.74" stroke="#368CB9" stroke-opacity="0.74"/>
<circle cx="327.2" cy="241.5" r="4.1" fill="#272425" fill-opacity="0.74" stroke="#272425" stroke-opacity="0.74"/>
<circle cx="327.2" cy="241.2" r="4.1" fill="#272425" fill-opacity="0.74" stroke="#272425" stroke-opacity="0.74"/>
<circle cx="327.2" cy="229.6" r="4.1" fill="#368CB9" fill-opacity="0.74" stroke="#368CB9" stroke-opacity="0.74"/>
<circle cx="327.2" cy="226.0" r="4.1" fill="#368CB9" fill-opacity="0.74" stroke="#368CB9" stroke-opacity="0.74"/>
<circle cx="327.2" cy="211.6" r="4.1" fill="#368CB9" fill-opacity="0.74" stroke="#368CB9" stroke-opacity="0.74"/>
<circle cx="327.2" cy="205.5" r="4.1" fill="#368CB9" fill-opacity="0.74" stroke="#368CB9" stroke-opacity="0.74"/>
<circle cx="327.2" cy="205.2" r="4.1" fill="#272425" fill-opacity="0.74" stroke="#272425" stroke-opacity="0.74"/>
<circle cx="327.2" cy="203.5" r="4.1" fill="#8B57A1" fill-opacity="0.74" stroke="#8B57A1" stroke-opacity="0.74"/>
<circle cx="327.2" cy="199.6" r="4.1" fill="#368CB9" fill-opacity="0.74" stroke="#368CB9" stroke-opacity="0.74"/>
<circle cx="327.2" cy="197.3" r="4.1" fill="#368CB9" fill-opacity="0.74" stroke="#368CB9" stroke-opacity="0.74"/>
<circle cx="327.2" cy="195.0" r="4.1" fill="#368CB9" fill-opacity="0.74" stroke="#368CB9" stroke-opacity="0.74"/>
<circle cx="327.2" cy="184.0" r="4.1" fill="#368CB9" fill-opacity="0.74" stroke="#368CB9" stroke-opacity="0.74"/>
<circle cx="327.2" cy="181.6" r="4.1" fill="#8B57A1" fill-opacity="0.74" stroke="#8B57A1" stroke-opacity="0.74"/>
<circle cx="327.2" cy="170.0" r="4.1" fill="#8B57A1" fill-opacity="0.74" stroke="#8B57A1" stroke-opacity="0.74"/>
<circle cx="327.2" cy="176.0" r="4.1" fill="#368CB9" fill-opacity="0.74" stroke="#368CB9" stroke-opacity="0.74"/>
<circle cx="327.2" cy="174.6" r="4.1" fill="#368CB9" fill-opacity="0.74" stroke="#368CB9" stroke-opacity="0.74"/>
<circle cx="327.2" cy="154.8" r="4.1" fill="#368CB9" fill-opacity="0.74" stroke="#368CB9" stroke-opacity="0.74"/>
<circle cx="327.2" cy="152.4" r="4.1" fill="#368CB9" fill-opacity="0.74" stroke="#368CB9" stroke-opacity="0.74"/>
<circle cx="327.2" cy="150.0" r="4.1" fill="#368CB9" fill-opacity="0.74" stroke="#368CB9" stroke-opacity="0.74"/>
<circle cx="327.2" cy="147.6" r="4.1" fill="#368CB9" fill-opacity="0.74" stroke="#368CB9" stroke-opacity="0.74"/>
<circle cx="327.2" cy="145.2" r="4.1" fill="#368CB9" fill-opacity="0.74" stroke="#368CB9" stroke-opacity="0.74"/>
<circle cx="327.2" cy="142.8" r="4.1" fill="#368CB9" fill-opacity="0.74" stroke="#368CB9" stroke-opacity="0.74"/>
<circle cx="327.2" cy="140.4" r="4.1" fill="#368CB9" fill-opacity="0.74" stroke="#368CB9" stroke-opacity="0.74"/>
<circle cx="327.2" cy="138.0" r="4.1" fill="#368CB9" fill-opacity="0.74" stroke="#368CB9" stroke-opacity="0.74"/>
<circle cx="327.2" cy="130.0" r="4.1" fill="#368CB9" fill-opacity="0.74" stroke="#368CB9" stroke-opacity="0.74"/>
<circle cx="327.2" cy="126.6" r="4.1" fill="#368CB9" fill-opacity="0.74" stroke="#368CB9" stroke-opacity="0.74"/>
<circle cx="327.2" cy="125.0" r="4.1" fill="#368CB9" fill-opacity="0.74" stroke="#368CB9" stroke-opacity="0.74"/>
<circle cx="327.2" cy="123.0" r="4.1" fill="#81571F" fill-opacity="0.74" stroke="#81571F" stroke-opacity="0.74"/>
<circle cx="327.2" cy="121.2" r="4.1" fill="#81571F" fill-opacity="0.74" stroke="#81571F" stroke-opacity="0.74"/>
<circle cx="327.2" cy="119.6" r="4.1" fill="#81571F" fill-opacity="0.74" stroke="#81571F" stroke-opacity="0.74"/>
<circle cx="327.2" cy="116.0" r="4.1" fill="#368CB9" fill-opacity="0.74" stroke="#368CB9" stroke-opacity="0.74"/>
<circle cx="327.2" cy="114.0" r="4.1" fill="#368CB9" fill-opacity="0.74" stroke="#368CB9" stroke-opacity="0.74"/>
<circle cx="327.2" cy="112.0" r="4.1" fill="#368CB9" fill-opacity="0.74" stroke="#368CB9" stroke-opacity="0.74"/>
<circle cx="327.2" cy="110.0" r="4.1" fill="#368CB9" fill-opacity="0.74" stroke="#368CB9" stroke-opacity="0.74"/>
<circle cx="327.2" cy="107.7" r="4.1" fill="#81571F" fill-opacity="0.74" stroke="#81571F" stroke-opacity="0.74"/>
<circle cx="327.2" cy="106.0" r="4.1" fill="#CE4E9B" fill-opacity="0.74" stroke="#CE4E9B" stroke-opacity="0.74"/>
<circle cx="327.2" cy="104.0" r="4.1" fill="#CE4E9B" fill-opacity="0.74" stroke="#CE4E9B" stroke-opacity="0.74"/>
<circle cx="327.2" cy="101.7" r="4.1" fill="#8B57A1" fill-opacity="0.74" stroke="#8B57A1" stroke-opacity="0.74"/>
<circle cx="327.2" cy="99.7" r="4.1" fill="#81571F" fill-opacity="0.74" stroke="#81571F" stroke-opacity="0.74"/>
<circle cx="327.2" cy="98.0" r="4.1" fill="#368CB9" fill-opacity="0.74" stroke="#368CB9" stroke-opacity="0.74"/>
<circle cx="327.2" cy="95.3" r="4.1" fill="#272425" fill-opacity="0.74" stroke="#272425" stroke-opacity="0.74"/>
<circle cx="327.2" cy="95.0" r="4.1" fill="#368CB9" fill-opacity="0.74" stroke="#368CB9" stroke-opacity="0.74"/>
<circle cx="327.2" cy="93.1" r="4.1" fill="#8B57A1" fill-opacity="0.74" stroke="#8B57A1" stroke-opacity="0.74"/>
<circle cx="327.2" cy="91.0" r="4.1" fill="#8B57A1" fill-opacity="0.74" stroke="#8B57A1" stroke-opacity="0.74"/>
<circle cx="327.2" cy="88.8" r="4.1" fill="#368CB9" fill-opacity="0.74" stroke="#368CB9" stroke-opacity="0.74"/>
<circle cx="327.2" cy="86.9" r="4.1" fill="#81571F" fill-opacity="0.74" stroke="#81571F" stroke-opacity="0.74"/>
<circle cx="327.2" cy="84.6" r="4.1" fill="#8B57A1" fill-opacity="0.74" stroke="#8B57A1" stroke-opacity="0.74"/>
<circle cx="327.2" cy="81.1" r="4.1" fill="#368CB9" fill-opacity="0.74" stroke="#368CB9" stroke-opacity="0.74"/>
<circle cx="327.2" cy="79.0" r="4.1" fill="#368CB9" fill-opacity="0.74" stroke="#368CB9" stroke-opacity="0.74"/>
<circle cx="327.2" cy="76.9" r="4.1" fill="#368CB9" fill-opacity="0.74" stroke="#368CB9" stroke-opacity="0.74"/>
<circle cx="327.2" cy="74.8" r="4.1" fill="#368CB9" fill-opacity="0.74" stroke="#368CB9" stroke-opacity="0.74"/>
<circle cx="360.6" cy="348.0" r="4.1" fill="#368CB9" fill-opacity="0.74" stroke="#368CB9" stroke-opacity="0.74"/>
<circle cx="360.6" cy="346.0" r="4.1" fill="#368CB9" fill-opacity="0.74" stroke="#368CB9" stroke-opacity="0.74"/>
<circle cx="360.6" cy="315.0" r="4.1" fill="#4687a9" fill-opacity="0.74" stroke="#368CB9" stroke-opacity="0.74"/>
<circle cx="360.6" cy="226.6" r="4.1" fill="#368CB9" fill-opacity="0.74" stroke="#368CB9" stroke-opacity="0.74"/>
<circle cx="360.6" cy="221.6" r="4.1" fill="#CE4E9B" fill-opacity="0.74" stroke="#CE4E9B" stroke-opacity="0.74"/>
<circle cx="360.6" cy="219.5" r="4.1" fill="#368CB9" fill-opacity="0.74" stroke="#368CB9" stroke-opacity="0.74"/>
<circle cx="360.6" cy="218.4" r="4.1" fill="#368CB9" fill-opacity="0.74" stroke="#368CB9" stroke-opacity="0.74"/>
<circle cx="360.6" cy="207.0" r="4.1" fill="#8B57A1" fill-opacity="0.74" stroke="#8B57A1" stroke-opacity="0.74"/>
<circle cx="360.6" cy="202.0" r="4.1" fill="#368CB9" fill-opacity="0.74" stroke="#368CB9" stroke-opacity="0.74"/>
<circle cx="360.6" cy="199.0" r="4.1" fill="#368CB9" fill-opacity="0.74" stroke="#368CB9" stroke-opacity="0.74"/>
<circle cx="360.6" cy="192.6" r="4.1" fill="#368CB9" fill-opacity="0.74" stroke="#368CB9" stroke-opacity="0.74"/>
<circle cx="360.6" cy="190.2" r="4.1" fill="#368CB9" fill-opacity="0.74" stroke="#368CB9" stroke-opacity="0.74"/>
<circle cx="360.6" cy="187.8" r="4.1" fill="#368CB9" fill-opacity="0.74" stroke="#368CB9" stroke-opacity="0.74"/>
<circle cx="360.6" cy="185.4" r="4.1" fill="#368CB9" fill-opacity="0.74" stroke="#368CB9" stroke-opacity="0.74"/>
<circle cx="360.6" cy="183.0" r="4.1" fill="#368CB9" fill-opacity="0.74" stroke="#368CB9" stroke-opacity="0.74"/>
<circle cx="360.6" cy="178.0" r="4.1" fill="#8B57A1" fill-opacity="0.74" stroke="#8B57A1" stroke-opacity="0.74"/>
<circle cx="360.6" cy="167.4" r="4.1" fill="#8B57A1" fill-opacity="0.74" stroke="#8B57A1" stroke-opacity="0.74"/>
<circle cx="360.6" cy="167.0" r="4.1" fill="#368CB9" fill-opacity="0.74" stroke="#368CB9" stroke-opacity="0.74"/>
<circle cx="360.6" cy="153.0" r="4.1" fill="#368CB9" fill-opacity="0.74" stroke="#368CB9" stroke-opacity="0.74"/>
<circle cx="360.6" cy="150.0" r="4.1" fill="#272425" fill-opacity="0.74" stroke="#272425" stroke-opacity="0.74"/>
<circle cx="360.6" cy="149.8" r="4.1" fill="#81571F" fill-opacity="0.74" stroke="#81571F" stroke-opacity="0.74"/>
<circle cx="360.6" cy="142.5" r="4.1" fill="#ba5a94" fill-opacity="0.74" stroke="#CE4E9B" stroke-opacity="0.74"/>
<circle cx="360.6" cy="129.2" r="4.1" fill="#8B57A1" fill-opacity="0.74" stroke="#8B57A1" stroke-opacity="0.74"/>
<circle cx="360.6" cy="124.0" r="4.1" fill="#81571F" fill-opacity="0.74" stroke="#81571F" stroke-opacity="0.74"/>
<circle cx="360.6" cy="128.8" r="4.1" fill="#368CB9" fill-opacity="0.74" stroke="#368CB9" stroke-opacity="0.74"/>
<circle cx="360.6" cy="117.0" r="4.1" fill="#272425" fill-opacity="0.74" stroke="#272425" stroke-opacity="0.74"/>
<circle cx="360.6" cy="116.6" r="4.1" fill="#81571F" fill-opacity="0.74" stroke="#81571F" stroke-opacity="0.74"/>
<circle cx="360.6" cy="108.7" r="4.1" fill="#368CB9" fill-opacity="0.74" stroke="#368CB9" stroke-opacity="0.74"/>
<circle cx="360.6" cy="106.4" r="4.1" fill="#368CB9" fill-opacity="0.74" stroke="#368CB9" stroke-opacity="0.74"/>
<circle cx="360.6" cy="104.1" r="4.1" fill="#368CB9" fill-opacity="0.74" stroke="#368CB9" stroke-opacity="0.74"/>
<circle cx="360.6" cy="101.8" r="4.1" fill="#368CB9" fill-opacity="0.74" stroke="#368CB9" stroke-opacity="0.74"/>
<circle cx="360.6" cy="99.5" r="4.1" fill="#368CB9" fill-opacity="0.74" stroke="#368CB9" stroke-opacity="0.74"/>
<circle cx="360.6" cy="97.0" r="4.1" fill="#8B57A1" fill-opacity="0.74" stroke="#8B57A1" stroke-opacity="0.74"/>
<circle cx="360.6" cy="95.2" r="4.1" fill="#368CB9" fill-opacity="0.74" stroke="#368CB9" stroke-opacity="0.74"/>
<circle cx="360.6" cy="93.5" r="4.1" fill="#368CB9" fill-opacity="0.74" stroke="#368CB9" stroke-opacity="0.74"/>
<circle cx="360.6" cy="91.1" r="4.1" fill="#81571F" fill-opacity="0.74" stroke="#81571F" stroke-opacity="0.74"/>
<circle cx="360.6" cy="89.5" r="4.1" fill="#CE4E9B" fill-opacity="0.74" stroke="#CE4E9B" stroke-opacity="0.74"/>
<circle cx="360.6" cy="88.0" r="4.1" fill="#CE4E9B" fill-opacity="0.74" stroke="#CE4E9B" stroke-opacity="0.74"/>
<circle cx="360.6" cy="85.5" r="4.1" fill="#81571F" fill-opacity="0.74" stroke="#81571F" stroke-opacity="0.74"/>
<circle cx="360.6" cy="84.0" r="4.1" fill="#81571F" fill-opacity="0.74" stroke="#81571F" stroke-opacity="0.74"/>
<circle cx="360.6" cy="81.5" r="4.1" fill="#CE4E9B" fill-opacity="0.74" stroke="#CE4E9B" stroke-opacity="0.74"/>
<circle cx="360.6" cy="77.6" r="4.1" fill="#368CB9" fill-opacity="0.74" stroke="#368CB9" stroke-opacity="0.74"/>
<circle cx="360.6" cy="75.9" r="4.1" fill="#368CB9" fill-opacity="0.74" stroke="#368CB9" stroke-opacity="0.74"/>
<circle cx="360.6" cy="74.2" r="4.1" fill="#368CB9" fill-opacity="0.74" stroke="#368CB9" stroke-opacity="0.74"/>
<circle cx="394.1" cy="338.8" r="4.1" fill="#272425" fill-opacity="0.74" stroke="#272425" stroke-opacity="0.74"/>
<circle cx="394.1" cy="295.5" r="4.1" fill="#8B57A1" fill-opacity="0.74" stroke="#8B57A1" stroke-opacity="0.74"/>
<circle cx="394.1" cy="290.0" r="4.1" fill="#368CB9" fill-opacity="0.74" stroke="#368CB9" stroke-opacity="0.74"/>
<circle cx="394.1" cy="237.0" r="4.1" fill="#8B57A1" fill-opacity="0.74" stroke="#8B57A1" stroke-opacity="0.74"/>
<circle cx="394.1" cy="233.8" r="4.1" fill="#368CB9" fill-opacity="0.74" stroke="#368CB9" stroke-opacity="0.74"/>
<circle cx="394.1" cy="211.0" r="4.1" fill="#CE4E9B" fill-opacity="0.74" stroke="#CE4E9B" stroke-opacity="0.74"/>
<circle cx="394.1" cy="205.8" r="4.1" fill="#368CB9" fill-opacity="0.74" stroke="#368CB9" stroke-opacity="0.74"/>
<circle cx="394.1" cy="196.0" r="4.1" fill="#CE4E9B" fill-opacity="0.74" stroke="#CE4E9B" stroke-opacity="0.74"/>
<circle cx="394.1" cy="191.0" r="4.1" fill="#81571F" fill-opacity="0.74" stroke="#81571F" stroke-opacity="0.74"/>
<circle cx="394.1" cy="186.0" r="4.1" fill="#368CB9" fill-opacity="0.74" stroke="#368CB9" stroke-opacity="0.74"/>
<circle cx="394.1" cy="169.0" r="4.1" fill="#368CB9" fill-opacity="0.74" stroke="#368CB9" stroke-opacity="0.74"/>
<circle cx="394.1" cy="164.0" r="4.1" fill="#368CB9" fill-opacity="0.74" stroke="#368CB9" stroke-opacity="0.74"/>
<circle cx="394.1" cy="147.5" r="4.1" fill="#368CB9" fill-opacity="0.74" stroke="#368CB9" stroke-opacity="0.74"/>
<circle cx="394.1" cy="140.5" r="4.1" fill="#368CB9" fill-opacity="0.74" stroke="#368CB9" stroke-opacity="0.74"/>
<circle cx="394.1" cy="123.5" r="4.1" fill="#368CB9" fill-opacity="0.74" stroke="#368CB9" stroke-opacity="0.74"/>
<circle cx="394.1" cy="120.0" r="4.1" fill="#CE4E9B" fill-opacity="0.74" stroke="#CE4E9B" stroke-opacity="0.74"/>
<circle cx="394.1" cy="117.0" r="4.1" fill="#368CB9" fill-opacity="0.74" stroke="#368CB9" stroke-opacity="0.74"/>
<circle cx="394.1" cy="114.5" r="4.1" fill="#272425" fill-opacity="0.74" stroke="#272425" stroke-opacity="0.74"/>
<circle cx="394.1" cy="110.5" r="4.1" fill="#368CB9" fill-opacity="0.74" stroke="#368CB9" stroke-opacity="0.74"/>
<circle cx="394.1" cy="98.5" r="4.1" fill="#CE4E9B" fill-opacity="0.74" stroke="#CE4E9B" stroke-opacity="0.74"/>
<circle cx="394.1" cy="95.6" r="4.1" fill="#8B57A1" fill-opacity="0.74" stroke="#8B57A1" stroke-opacity="0.74"/>
<circle cx="427.5" cy="296.0" r="4.1" fill="#4687a9" fill-opacity="0.74" stroke="#368CB9" stroke-opacity="0.74"/>
<circle cx="427.5" cy="287.0" r="4.1" fill="#272425" fill-opacity="0.74" stroke="#272425" stroke-opacity="0.74"/>
<circle cx="427.5" cy="249.0" r="4.1" fill="#8B57A1" fill-opacity="0.74" stroke="#8B57A1" stroke-opacity="0.74"/>
<circle cx="427.5" cy="246.0" r="4.1" fill="#368CB9" fill-opacity="0.74" stroke="#368CB9" stroke-opacity="0.74"/>
<circle cx="427.5" cy="229.0" r="4.1" fill="#ba5a94" fill-opacity="0.74" stroke="#CE4E9B" stroke-opacity="0.74"/>
<circle cx="427.5" cy="169.0" r="4.1" fill="#845d94" fill-opacity="0.74" stroke="#8B57A1" stroke-opacity="0.74"/>
<circle cx="427.5" cy="154.0" r="4.1" fill="#8B57A1" fill-opacity="0.74" stroke="#8B57A1" stroke-opacity="0.74"/>
<circle cx="427.5" cy="149.0" r="4.1" fill="#368CB9" fill-opacity="0.74" stroke="#368CB9" stroke-opacity="0.74"/>
<circle cx="427.5" cy="118.0" r="4.1" fill="#8B57A1" fill-opacity="0.74" stroke="#8B57A1" stroke-opacity="0.74"/>
<circle cx="427.5" cy="111.0" r="4.1" fill="#8B57A1" fill-opacity="0.74" stroke="#8B57A1" stroke-opacity="0.74"/>
<circle cx="427.5" cy="106.8" r="4.1" fill="#368CB9" fill-opacity="0.74" stroke="#368CB9" stroke-opacity="0.74"/>
<circle cx="427.5" cy="106.3" r="4.1" fill="#368CB9" fill-opacity="0.74" stroke="#368CB9" stroke-opacity="0.74"/>
<circle cx="427.5" cy="95.2" r="4.1" fill="#81571F" fill-opacity="0.74" stroke="#81571F" stroke-opacity="0.74"/>
<circle cx="427.5" cy="95.0" r="4.1" fill="#81571F" fill-opacity="0.74" stroke="#81571F" stroke-opacity="0.74"/>
<circle cx="427.5" cy="81.5" r="4.1" fill="#8B57A1" fill-opacity="0.74" stroke="#8B57A1" stroke-opacity="0.74"/>
<circle cx="427.5" cy="81.0" r="4.1" fill="#CE4E9B" fill-opacity="0.74" stroke="#CE4E9B" stroke-opacity="0.74"/>
<circle cx="427.5" cy="75.5" r="4.1" fill="#368CB9" fill-opacity="0.74" stroke="#368CB9" stroke-opacity="0.74"/>
<circle cx="460.9" cy="348.2" r="4.1" fill="#845d94" fill-opacity="0.74" stroke="#8B57A1" stroke-opacity="0.74"/>
<circle cx="460.9" cy="289.5" r="4.1" fill="#845d94" fill-opacity="0.74" stroke="#8B57A1" stroke-opacity="0.74"/>
<circle cx="460.9" cy="258.8" r="4.1" fill="#845d94" fill-opacity="0.74" stroke="#8B57A1" stroke-opacity="0.74"/>
<circle cx="460.9" cy="245.0" r="4.1" fill="#845d94" fill-opacity="0.74" stroke="#8B57A1" stroke-opacity="0.74"/>
<circle cx="460.9" cy="212.0" r="4.1" fill="#8B57A1" fill-opacity="0.74" stroke="#8B57A1" stroke-opacity="0.74"/>
<circle cx="460.9" cy="207.5" r="4.1" fill="#CE4E9B" fill-opacity="0.74" stroke="#CE4E9B" stroke-opacity="0.74"/>
<circle cx="494.4" cy="284.0" r="4.1" fill="#ba5a94" fill-opacity="0.74" stroke="#CE4E9B" stroke-opacity="0.74"/>
<circle cx="494.4" cy="246.8" r="4.1" fill="#ba5a94" fill-opacity="0.74" stroke="#CE4E9B" stroke-opacity="0.74"/>
<circle cx="494.4" cy="176.0" r="4.1" fill="#ba5a94" fill-opacity="0.74" stroke="#CE4E9B" stroke-opacity="0.74"/>
<circle cx="494.4" cy="80.0" r="4.1" fill="#ba5a94" fill-opacity="0.74" stroke="#CE4E9B" stroke-opacity="0.74"/>
<circle cx="527.8" cy="266.0" r="4.1" fill="#ba5a94" fill-opacity="0.74" stroke="#CE4E9B" stroke-opacity="0.74"/>
<circle cx="527.8" cy="193.8" r="4.1" fill="#ba5a94" fill-opacity="0.74" stroke="#CE4E9B" stroke-opacity="0.74"/>
<circle cx="561.3" cy="233.0" r="4.1" fill="#272425" fill-opacity="0.74" stroke="#272425" stroke-opacity="0.74"/>
<circle cx="561.3" cy="209.5" r="4.1" fill="#272425" fill-opacity="0.74" stroke="#272425" stroke-opacity="0.74"/>
<circle cx="561.3" cy="174.0" r="4.1" fill="#272425" fill-opacity="0.74" stroke="#272425" stroke-opacity="0.74"/>
<circle cx="176.5" cy="99.0" r="4.1" fill="#78592f" fill-opacity="0.74" stroke="#81571F" stroke-opacity="0.74"/>
<circle cx="166.5" cy="133.2" r="4.1" fill="#78592f" fill-opacity="0.74" stroke="#81571F" stroke-opacity="0.74"/>
<circle cx="146.5" cy="155.0" r="4.1" fill="#78592f" fill-opacity="0.74" stroke="#81571F" stroke-opacity="0.74"/>
<circle cx="206.9" cy="277.9" r="4.1" fill="#845d94" fill-opacity="0.74" stroke="#8B57A1" stroke-opacity="0.74"/>
<circle cx="240.2" cy="208.8" r="4.1" fill="#78592f" fill-opacity="0.74" stroke="#81571F" stroke-opacity="0.74"/>
<circle cx="310.4" cy="97.2" r="4.1" fill="#845d94" fill-opacity="0.74" stroke="#8B57A1" stroke-opacity="0.74"/>
<circle cx="283.8" cy="133.8" r="4.1" fill="#845d94" fill-opacity="0.74" stroke="#8B57A1" stroke-opacity="0.74"/>
<circle cx="400.5" cy="193.8" r="4.1" fill="#CE4E9B" fill-opacity="0.74" stroke="#CE4E9B" stroke-opacity="0.74"/>
</g>
<path d="M93.2,253.8C97.7,256.0 111.4,263.8 120.0,267.5C128.6,271.2 136.7,274.1 145.0,276.0C153.3,277.9 164.2,278.4 170.0,279.0C175.8,279.6 174.2,280.0 180.0,279.8C185.8,279.5 196.7,278.7 205.0,277.2C213.3,275.8 221.7,273.7 230.0,271.0C238.3,268.3 246.7,265.3 255.0,261.0C263.3,256.7 273.8,249.6 280.0,245.4C286.2,241.2 284.2,241.3 292.5,236.0C300.8,230.7 319.6,219.4 330.0,213.5C340.4,207.6 346.7,204.1 355.0,200.4C363.3,196.8 373.3,193.5 380.0,191.6C386.7,189.7 388.3,189.9 395.0,188.8C401.7,187.6 411.7,185.3 420.0,184.5C428.3,183.7 436.7,183.6 445.0,183.8C453.3,183.9 461.7,184.5 470.0,185.5C478.3,186.5 486.7,188.2 495.0,190.0C503.3,191.8 511.7,193.7 520.0,196.0C528.3,198.3 538.1,201.5 545.0,203.8C551.9,206.0 558.7,208.5 561.4,209.5" fill="none" stroke="#272425" stroke-width="4.3" stroke-linecap="butt" stroke-linejoin="round"/>
<path d="M193.6,214.2C197.6,210.5 210.4,198.6 217.5,192.2C224.6,185.9 230.0,181.1 236.2,176.0C242.5,170.9 249.8,165.2 255.0,161.5C260.2,157.8 263.3,156.1 267.5,154.0C271.7,151.9 273.8,151.0 280.0,148.8C286.2,146.6 296.7,142.9 305.0,140.6C313.3,138.3 323.3,136.2 330.0,135.0C336.7,133.8 339.8,133.4 345.0,133.5C350.2,133.6 355.2,134.3 361.0,135.6C366.8,136.9 373.5,138.7 380.0,141.2C386.5,143.8 391.7,147.2 400.0,151.0C408.3,154.8 419.6,159.2 430.0,164.0C440.4,168.8 451.7,172.9 462.5,179.5C473.3,186.1 484.1,195.3 495.0,203.8C505.9,212.2 522.4,225.6 527.9,230.0" fill="none" stroke="#CE4E9B" stroke-width="4.3" stroke-linecap="butt" stroke-linejoin="round"/>
<path d="M126.7,171.5C131.4,172.4 146.1,175.8 155.0,176.9C163.9,178.0 172.5,178.2 180.0,178.3C187.5,178.4 193.8,178.2 200.0,177.6C206.2,177.0 210.4,176.5 217.5,175.0C224.6,173.5 234.2,171.2 242.5,168.8C250.8,166.2 261.2,162.0 267.5,160.0C273.8,158.0 273.8,158.7 280.0,157.0C286.2,155.3 297.1,151.5 305.0,150.0C312.9,148.5 320.8,147.8 327.5,147.8C334.2,147.7 339.4,148.5 345.0,149.4C350.6,150.3 355.2,151.1 361.0,153.0C366.8,154.9 375.2,158.2 380.0,160.6C384.8,163.0 385.4,164.3 390.0,167.5C394.6,170.7 400.4,173.9 407.5,179.5C414.6,185.1 423.6,191.9 432.5,201.0C441.4,210.1 456.3,228.5 461.1,234.0" fill="none" stroke="#8B57A1" stroke-width="4.3" stroke-linecap="butt" stroke-linejoin="round"/>
<path d="M160.1,159.2C163.4,159.5 168.3,160.3 180.0,161.0C191.7,161.7 213.3,162.3 230.0,163.1C246.7,163.9 263.3,165.6 280.0,165.6C296.7,165.6 313.3,163.4 330.0,163.0C346.7,162.6 368.3,162.7 380.0,162.9C391.7,163.1 392.1,163.2 400.0,164.0C407.9,164.8 423.0,167.3 427.6,168.0" fill="none" stroke="#368CB9" stroke-width="4.3" stroke-linecap="butt" stroke-linejoin="round"/>
<path d="M126.7,159.2C130.6,159.0 141.1,158.5 150.0,158.2C158.9,157.9 166.7,158.0 180.0,157.2C193.3,156.4 217.1,154.7 230.0,153.4C242.9,152.1 249.2,150.9 257.5,149.6C265.8,148.3 272.1,147.2 280.0,145.4C287.9,143.6 296.7,140.7 305.0,138.5C313.3,136.3 324.2,133.8 330.0,132.3C335.8,130.8 334.2,131.4 340.0,129.4C345.8,127.5 356.0,123.6 365.0,120.6C374.0,117.6 385.4,114.1 393.8,111.2C402.1,108.4 409.4,106.3 415.0,103.8C420.6,101.2 425.5,97.5 427.6,96.2" fill="none" stroke="#81571F" stroke-width="4.3" stroke-linecap="butt" stroke-linejoin="round"/>
<g font-family="Liberation Sans, sans-serif" font-size="17.07" fill="#585858" letter-spacing="0.28" style="font-kerning:none">
<text x="59.8" y="445.2" text-anchor="end">5000</text>
<text x="59.8" y="313.1" text-anchor="end">10000</text>
<text x="59.8" y="181.1" text-anchor="end">15000</text>
<text x="59.8" y="49.1" text-anchor="end">20000</text>
<text x="93.1" y="465" text-anchor="middle">52</text>
<text x="226.9" y="465" text-anchor="middle">56</text>
<text x="360.6" y="465" text-anchor="middle">60</text>
<text x="494.4" y="465" text-anchor="middle">64</text>
</g>
<text x="616.3" y="143" font-family="Liberation Sans, sans-serif" font-size="22" fill="#1a1a1a" style="font-kerning:none">cut</text>
<rect x="617" y="157" width="35" height="171.6" fill="#f9f9f9"/>
<line x1="621.1" x2="648.8" y1="174.2" y2="174.2" stroke="#272425" stroke-width="4.3"/>
<circle cx="634.5" cy="174.2" r="4.1" fill="#272425" fill-opacity="0.74" stroke="#272425" stroke-opacity="0.74" stroke-width="0.95"/>
<text x="663.4" y="179.7" font-family="Liberation Sans, sans-serif" font-size="17.07" fill="#1a1a1a" letter-spacing="0.15" style="font-kerning:none">Fair</text>
<line x1="621.1" x2="648.8" y1="208.7" y2="208.7" stroke="#CE4E9B" stroke-width="4.3"/>
<circle cx="634.5" cy="208.7" r="4.1" fill="#CE4E9B" fill-opacity="0.74" stroke="#CE4E9B" stroke-opacity="0.74" stroke-width="0.95"/>
<text x="663.4" y="214.2" font-family="Liberation Sans, sans-serif" font-size="17.07" fill="#1a1a1a" letter-spacing="0.15" style="font-kerning:none">Good</text>
<line x1="621.1" x2="648.8" y1="243.2" y2="243.2" stroke="#8B57A1" stroke-width="4.3"/>
<circle cx="634.5" cy="243.2" r="4.1" fill="#8B57A1" fill-opacity="0.74" stroke="#8B57A1" stroke-opacity="0.74" stroke-width="0.95"/>
<text x="663.4" y="248.7" font-family="Liberation Sans, sans-serif" font-size="17.07" fill="#1a1a1a" letter-spacing="0.15" style="font-kerning:none">Very Good</text>
<line x1="621.1" x2="648.8" y1="277.7" y2="277.7" stroke="#368CB9" stroke-width="4.3"/>
<circle cx="634.5" cy="277.7" r="4.1" fill="#368CB9" fill-opacity="0.74" stroke="#368CB9" stroke-opacity="0.74" stroke-width="0.95"/>
<text x="663.4" y="283.2" font-family="Liberation Sans, sans-serif" font-size="17.07" fill="#1a1a1a" letter-spacing="0.15" style="font-kerning:none">Premium</text>
<line x1="621.1" x2="648.8" y1="312.2" y2="312.2" stroke="#81571F" stroke-width="4.3"/>
<circle cx="634.5" cy="312.2" r="4.1" fill="#81571F" fill-opacity="0.74" stroke="#81571F" stroke-opacity="0.74" stroke-width="0.95"/>
<text x="663.4" y="317.7" font-family="Liberation Sans, sans-serif" font-size="17.07" fill="#1a1a1a" letter-spacing="0.15" style="font-kerning:none">Ideal</text>
<line x1="827.7" x2="1353" y1="423.40" y2="423.40" stroke="#ebebeb" stroke-width="2.07"/>
<line x1="827.7" x2="1353" y1="342.90" y2="342.90" stroke="#ebebeb" stroke-width="2.07"/>
<line x1="827.7" x2="1353" y1="262.40" y2="262.40" stroke="#ebebeb" stroke-width="2.07"/>
<line x1="827.7" x2="1353" y1="181.90" y2="181.90" stroke="#ebebeb" stroke-width="2.07"/>
<line x1="827.7" x2="1353" y1="101.40" y2="101.40" stroke="#ebebeb" stroke-width="2.07"/>
<line x1="827.7" x2="1353" y1="20.90" y2="20.90" stroke="#ebebeb" stroke-width="2.07"/>
<g shape-rendering="auto">
<rect x="838.90" y="410.29" width="13.06" height="13.11" fill="#272425"/>
<rect x="851.96" y="370.18" width="13.06" height="53.22" fill="#CE4E9B"/>
<rect x="865.02" y="301.75" width="13.06" height="121.65" fill="#8B57A1"/>
<rect x="878.08" y="294.52" width="13.06" height="128.88" fill="#368CB9"/>
<rect x="891.14" y="195.55" width="13.06" height="227.85" fill="#81571F"/>
<rect x="911.80" y="405.39" width="13.06" height="18.01" fill="#272425"/>
<rect x="924.86" y="348.39" width="13.06" height="75.01" fill="#CE4E9B"/>
<rect x="937.92" y="230.44" width="13.06" height="192.96" fill="#8B57A1"/>
<rect x="950.98" y="235.51" width="13.06" height="187.89" fill="#368CB9"/>
<rect x="964.04" y="109.60" width="13.06" height="313.80" fill="#81571F"/>
<rect x="984.70" y="398.32" width="13.06" height="25.08" fill="#272425"/>
<rect x="997.76" y="350.32" width="13.06" height="73.08" fill="#CE4E9B"/>
<rect x="1010.82" y="249.41" width="13.06" height="173.99" fill="#8B57A1"/>
<rect x="1023.88" y="235.99" width="13.06" height="187.41" fill="#368CB9"/>
<rect x="1036.94" y="115.79" width="13.06" height="307.61" fill="#81571F"/>
<rect x="1057.60" y="398.15" width="13.06" height="25.25" fill="#272425"/>
<rect x="1070.66" y="353.37" width="13.06" height="70.03" fill="#CE4E9B"/>
<rect x="1083.72" y="238.56" width="13.06" height="184.84" fill="#8B57A1"/>
<rect x="1096.78" y="188.31" width="13.06" height="235.09" fill="#368CB9"/>
<rect x="1109.84" y="30.73" width="13.06" height="392.67" fill="#81571F"/>
<rect x="1130.50" y="399.04" width="13.06" height="24.36" fill="#272425"/>
<rect x="1143.56" y="366.96" width="13.06" height="56.44" fill="#CE4E9B"/>
<rect x="1156.62" y="276.75" width="13.06" height="146.65" fill="#8B57A1"/>
<rect x="1169.68" y="233.66" width="13.06" height="189.74" fill="#368CB9"/>
<rect x="1182.74" y="172.95" width="13.06" height="250.45" fill="#81571F"/>
<rect x="1203.40" y="409.33" width="13.06" height="14.07" fill="#272425"/>
<rect x="1216.46" y="381.43" width="13.06" height="41.97" fill="#CE4E9B"/>
<rect x="1229.52" y="326.60" width="13.06" height="96.80" fill="#8B57A1"/>
<rect x="1242.58" y="308.59" width="13.06" height="114.81" fill="#368CB9"/>
<rect x="1255.64" y="255.12" width="13.06" height="168.28" fill="#81571F"/>
<rect x="1276.30" y="413.83" width="13.06" height="9.57" fill="#272425"/>
<rect x="1289.36" y="398.72" width="13.06" height="24.68" fill="#CE4E9B"/>
<rect x="1302.42" y="368.89" width="13.06" height="54.51" fill="#8B57A1"/>
<rect x="1315.48" y="358.44" width="13.06" height="64.96" fill="#368CB9"/>
<rect x="1328.54" y="351.36" width="13.06" height="72.04" fill="#81571F"/>
</g>
<g font-family="Liberation Sans, sans-serif" font-size="17.07" fill="#585858" letter-spacing="0.28" style="font-kerning:none">
<text x="818.2" y="429.3" text-anchor="end">0</text>
<text x="818.2" y="348.8" text-anchor="end">1000</text>
<text x="818.2" y="268.3" text-anchor="end">2000</text>
<text x="818.2" y="187.8" text-anchor="end">3000</text>
<text x="818.2" y="107.3" text-anchor="end">4000</text>
<text x="818.2" y="26.8" text-anchor="end">5000</text>
<text x="871.5" y="465" text-anchor="middle">D</text>
<text x="944.4" y="465" text-anchor="middle">E</text>
<text x="1017.3" y="465" text-anchor="middle">F</text>
<text x="1090.2" y="465" text-anchor="middle">G</text>
<text x="1163.2" y="465" text-anchor="middle">H</text>
<text x="1236.0" y="465" text-anchor="middle">I</text>
<text x="1309.0" y="465" text-anchor="middle">J</text>
</g>
<text x="1384.8" y="143" font-family="Liberation Sans, sans-serif" font-size="22" fill="#1a1a1a" style="font-kerning:none">cut</text>
<rect x="1387.4" y="158.4" width="31.7" height="31.7" fill="#272425"/>
<text x="1431.4" y="179.7" font-family="Liberation Sans, sans-serif" font-size="17.07" fill="#1a1a1a" letter-spacing="0.15" style="font-kerning:none">Fair</text>
<rect x="1387.4" y="192.9" width="31.7" height="31.7" fill="#CE4E9B"/>
<text x="1431.4" y="214.2" font-family="Liberation Sans, sans-serif" font-size="17.07" fill="#1a1a1a" letter-spacing="0.15" style="font-kerning:none">Good</text>
<rect x="1387.4" y="227.4" width="31.7" height="31.7" fill="#8B57A1"/>
<text x="1431.4" y="248.7" font-family="Liberation Sans, sans-serif" font-size="17.07" fill="#1a1a1a" letter-spacing="0.15" style="font-kerning:none">Very Good</text>
<rect x="1387.4" y="261.9" width="31.7" height="31.7" fill="#368CB9"/>
<text x="1431.4" y="283.2" font-family="Liberation Sans, sans-serif" font-size="17.07" fill="#1a1a1a" letter-spacing="0.15" style="font-kerning:none">Premium</text>
<rect x="1387.4" y="296.4" width="31.7" height="31.7" fill="#81571F"/>
<text x="1431.4" y="317.7" font-family="Liberation Sans, sans-serif" font-size="17.07" fill="#1a1a1a" letter-spacing="0.15" style="font-kerning:none">Ideal</text>
</svg>
</body>
</html>
